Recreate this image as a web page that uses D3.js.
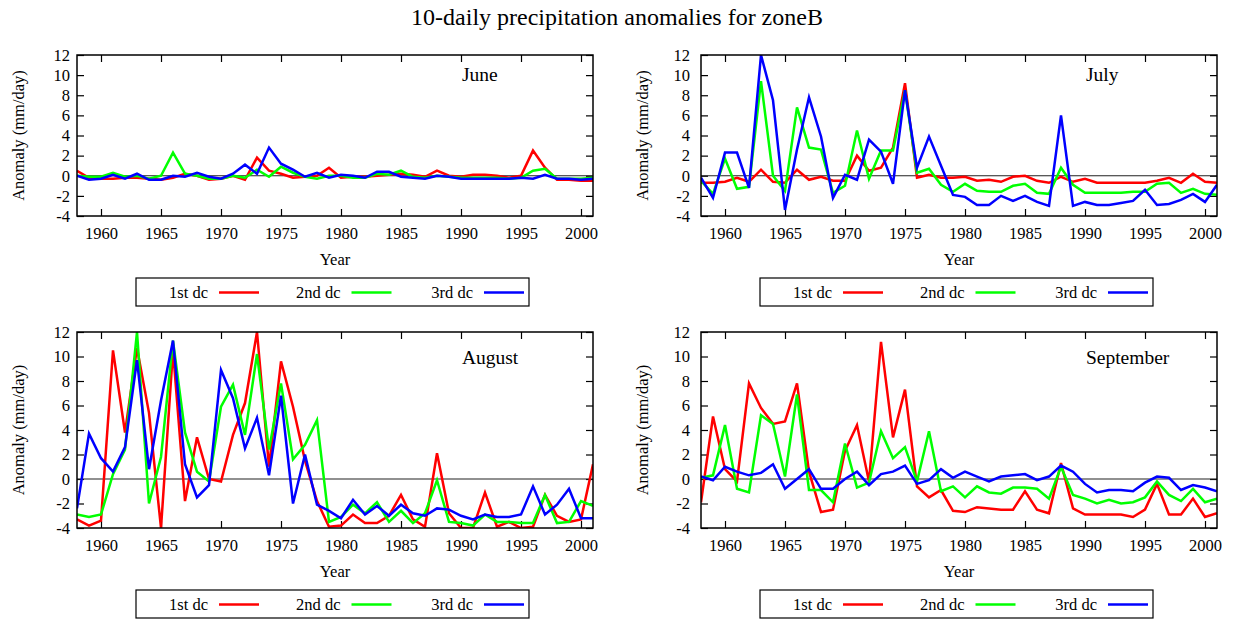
<!DOCTYPE html>
<html>
<head>
<meta charset="utf-8">
<script src="https://cdn.jsdelivr.net/npm/d3@7"></script>
<style>
  body { margin: 0; background: #fff; }
  svg text { font-family: "Liberation Serif", "Times New Roman", serif; font-size: 16.5px; fill: #000; }
</style>
</head>
<body>
<svg id="chart" width="1234" height="620"></svg>
<script>
// Years covered by every series
const years = d3.range(1958, 2002);
const xTicks = [1960, 1965, 1970, 1975, 1980, 1985, 1990, 1995, 2000];
const yTicks = [-4, -2, 0, 2, 4, 6, 8, 10, 12];
const seriesNames = ["1st dc", "2nd dc", "3rd dc"];
const seriesColors = ["#ff0000", "#00ff00", "#0000ff"];
const months = ["June", "July", "August", "September"];

// 10-daily (dekad) precipitation anomalies, mm/day, 1958-2001
const juneDc1 = [0.5,-0.2,-0.3,-0.3,-0.2,-0.2,-0.3,-0.4,-0.2,0.2, 0.0,-0.4,-0.3,0.0,-0.4,1.8,0.5,0.2,-0.2,-0.1, 0.0,0.8,-0.2,-0.1,-0.1,0.0,0.1,0.2,0.1,-0.1, 0.5,0.0,-0.1,0.1,0.1,0.0,-0.2,0.0,2.5,0.8, -0.4,-0.4,-0.5,-0.5];
const juneDc2 = [0.0,-0.1,-0.1,0.3,-0.1,0.0,-0.3,0.0,2.3,0.2, 0.0,-0.3,-0.3,0.0,-0.2,0.6,-0.1,0.9,0.3,-0.1, -0.3,0.0,0.0,-0.2,-0.2,0.2,0.1,0.5,-0.1,-0.2, 0.0,-0.1,-0.2,-0.2,-0.2,-0.2,-0.3,-0.2,0.5,0.7, -0.3,-0.3,-0.3,-0.2];
const juneDc3 = [0.0,-0.4,-0.3,0.1,-0.3,0.2,-0.4,-0.4,0.0,-0.1, 0.3,-0.1,-0.3,0.2,1.1,0.2,2.8,1.2,0.6,-0.1, 0.3,-0.2,0.1,0.0,-0.2,0.4,0.4,-0.1,-0.2,-0.3, 0.0,-0.1,-0.3,-0.3,-0.3,-0.3,-0.3,-0.2,-0.3,0.1, -0.3,-0.3,-0.4,-0.3];

const julyDc1 = [-0.7,-0.7,-0.6,-0.2,-0.6,0.6,-0.6,-0.7,0.6,-0.4, -0.1,-0.5,-0.5,2.0,0.5,0.8,2.8,9.2,-0.2,0.1, -0.2,-0.2,-0.1,-0.5,-0.4,-0.6,-0.1,0.0,-0.5,-0.7, -0.1,-0.6,-0.3,-0.7,-0.7,-0.7,-0.7,-0.7,-0.5,-0.2, -0.7,0.2,-0.6,-0.7];
const julyDc2 = [-0.5,-1.8,1.7,-1.3,-1.1,9.4,0.0,-1.5,6.8,2.8, 2.6,-1.7,-1.0,4.5,-0.3,2.5,2.5,8.5,0.3,0.7, -0.9,-1.6,-0.8,-1.5,-1.6,-1.6,-1.0,-0.8,-1.7,-1.8, 0.8,-0.9,-1.7,-1.7,-1.7,-1.7,-1.6,-1.6,-0.8,-0.7, -1.7,-1.3,-1.8,-1.9];
const julyDc3 = [-0.2,-2.2,2.3,2.3,-1.2,12.0,7.5,-3.4,2.6,7.8, 3.9,-2.2,0.1,-0.4,3.6,2.4,-0.8,8.5,0.8,3.9, 1.0,-1.9,-2.1,-2.9,-2.9,-2.0,-2.5,-2.0,-2.6,-3.0, 6.0,-3.0,-2.6,-2.9,-2.9,-2.7,-2.5,-1.4,-2.9,-2.8, -2.4,-1.8,-2.6,-0.9];

const augDc1 = [-3.3,-3.8,-3.4,10.5,3.8,10.7,5.4,-4.0,10.5,-1.8, 3.4,0.0,-0.2,3.6,6.2,12.0,1.0,9.6,5.9,1.5, -1.8,-3.9,-3.8,-2.9,-3.6,-3.6,-3.0,-1.3,-3.3,-3.9, 2.1,-2.8,-4.0,-4.0,-1.1,-3.9,-3.5,-4.0,-3.9,-1.3, -3.0,-3.5,-3.3,1.2];
const augDc2 = [-2.9,-3.1,-2.9,0.4,2.4,12.0,-2.0,1.8,11.3,3.8, 0.6,-0.2,5.9,7.7,3.6,10.2,2.4,7.8,1.6,2.8, 4.8,-3.5,-3.1,-2.1,-2.8,-1.9,-3.5,-2.6,-3.6,-2.8, -0.1,-3.5,-3.6,-3.8,-2.9,-3.5,-3.5,-3.6,-3.6,-1.3, -3.6,-3.5,-1.8,-2.2];
const augDc3 = [-2.4,3.7,1.7,0.6,2.6,9.7,0.8,6.4,11.3,1.2, -1.5,-0.5,8.9,6.6,2.5,5.0,0.3,6.8,-2.0,2.0, -2.1,-2.6,-3.2,-1.7,-2.9,-2.2,-3.0,-2.1,-2.8,-3.0, -2.4,-2.5,-3.0,-3.3,-2.9,-3.1,-3.1,-2.9,-0.6,-2.9, -2.1,-0.8,-3.2,-3.2];

const sepDc1 = [-1.9,5.1,0.8,-0.2,7.8,5.8,4.5,4.7,7.8,0.6, -2.7,-2.5,2.3,4.4,-0.2,11.2,3.4,7.3,-0.6,-1.5, -0.9,-2.6,-2.7,-2.3,-2.4,-2.5,-2.5,-1.0,-2.5,-2.8, 1.3,-2.4,-2.9,-2.9,-2.9,-2.9,-3.1,-2.5,-0.4,-2.9, -2.9,-1.6,-3.1,-2.8];
const sepDc2 = [0.1,0.3,4.4,-0.8,-1.1,5.2,4.5,0.2,6.9,-0.9, -0.9,-1.9,2.9,-0.7,-0.3,3.9,1.7,2.6,-0.2,3.9, -1.0,-0.6,-1.5,-0.6,-1.1,-1.2,-0.7,-0.7,-0.8,-1.6, 1.0,-1.3,-1.6,-2.0,-1.7,-2.0,-1.9,-1.5,-0.2,-1.3, -1.8,-0.8,-1.9,-1.6];
const sepDc3 = [0.2,-0.1,1.0,0.6,0.3,0.5,1.2,-0.8,0.0,0.8, -0.8,-0.8,0.0,0.6,-0.5,0.4,0.6,1.1,-0.4,-0.1, 0.8,0.1,0.6,0.2,-0.2,0.2,0.3,0.4,-0.1,0.2, 1.1,0.6,-0.4,-1.1,-0.9,-0.9,-1.0,-0.3,0.2,0.1, -0.9,-0.5,-0.7,-1.0];

const monthSeries = [
  [juneDc1, juneDc2, juneDc3],
  [julyDc1, julyDc2, julyDc3],
  [augDc1, augDc2, augDc3],
  [sepDc1, sepDc2, sepDc3]
];

// Panel frames (pixel layout of the 2x2 grid)
const frames = [
  { left: 77,  right: 593,  top: 55,  bottom: 216, yPad: 7,  yLabelX: 18 },
  { left: 701, right: 1217, top: 55,  bottom: 216, yPad: 11, yLabelX: 642 },
  { left: 77,  right: 593,  top: 332, bottom: 528, yPad: 7,  yLabelX: 18 },
  { left: 701, right: 1217, top: 332, bottom: 528, yPad: 11, yLabelX: 642 }
];

const svg = d3.select("#chart");

svg.append("text")
  .attr("x", 617).attr("y", 25)
  .attr("text-anchor", "middle")
  .style("font-size", "24px")
  .text("10-daily precipitation anomalies for zoneB");

frames.forEach((f, i) => {
  const w = f.right - f.left, h = f.bottom - f.top;
  const x = d3.scaleLinear().domain([1958, 2001]).range([0, w]);
  const y = d3.scaleLinear().domain([-4, 12]).range([h, 0]);
  const g = svg.append("g").attr("transform", `translate(${f.left},${f.top})`);

  g.append("clipPath").attr("id", "clip" + i)
    .append("rect").attr("width", w).attr("height", h);

  const fmt = d => String(d);
  const styleAxis = a => {
    a.attr("font-family", null).attr("font-size", null);
    a.select(".domain").remove();
    a.selectAll(".tick line").attr("stroke", "#000").attr("stroke-width", 1.2);
  };

  g.append("g").attr("transform", `translate(0,${h})`)
    .call(d3.axisBottom(x).tickValues(xTicks).tickSize(-7).tickPadding(11).tickFormat(fmt))
    .call(styleAxis);
  g.append("g")
    .call(d3.axisTop(x).tickValues(xTicks).tickSize(-7).tickFormat(""))
    .call(styleAxis);
  g.append("g")
    .call(d3.axisLeft(y).tickValues(yTicks).tickSize(-7).tickPadding(f.yPad).tickFormat(fmt))
    .call(styleAxis);
  g.append("g").attr("transform", `translate(${w},0)`)
    .call(d3.axisRight(y).tickValues(yTicks).tickSize(-7).tickFormat(""))
    .call(styleAxis);

  // zero reference line
  g.append("line")
    .attr("x1", 0).attr("x2", w)
    .attr("y1", y(0)).attr("y2", y(0))
    .attr("stroke", "#222").attr("stroke-width", 1.2);

  const line = d3.line().x((d, k) => x(years[k])).y(d => y(d));
  const plot = g.append("g").attr("clip-path", `url(#clip${i})`);
  monthSeries[i].forEach((vals, s) => {
    plot.append("path")
      .datum(vals)
      .attr("d", line)
      .attr("fill", "none")
      .attr("stroke", seriesColors[s])
      .attr("stroke-width", 2.5)
      .attr("stroke-linejoin", "miter");
  });

  g.append("rect").attr("width", w).attr("height", h)
    .attr("fill", "none").attr("stroke", "#000").attr("stroke-width", 1.5);

  // month label inside the frame
  g.append("text")
    .attr("x", w * 0.746).attr("y", h * 0.162)
    .style("font-size", "19.5px")
    .text(months[i]);

  // axis titles
  g.append("text")
    .attr("x", w / 2).attr("y", h + 49)
    .attr("text-anchor", "middle")
    .text("Year");
  svg.append("text")
    .attr("transform", `translate(${f.yLabelX},${f.top + h / 2}) rotate(-90)`)
    .attr("text-anchor", "middle")
    .attr("dy", "0.35em")
    .text("Anomaly (mm/day)");

  // legend box below the panel
  const lg = svg.append("g").attr("transform", `translate(${f.left + 59},${f.bottom + 62})`);
  lg.append("rect").attr("width", 393).attr("height", 28)
    .attr("fill", "#fff").attr("stroke", "#000").attr("stroke-width", 1.2);
  seriesNames.forEach((name, s) => {
    const off = s * 132.5;
    lg.append("text")
      .attr("x", off + 72).attr("y", 19.5)
      .attr("text-anchor", "end")
      .text(name);
    lg.append("line")
      .attr("x1", off + 83).attr("x2", off + 123)
      .attr("y1", 14.5).attr("y2", 14.5)
      .attr("stroke", seriesColors[s]).attr("stroke-width", 2.5);
  });
});
</script>
</body>
</html>
